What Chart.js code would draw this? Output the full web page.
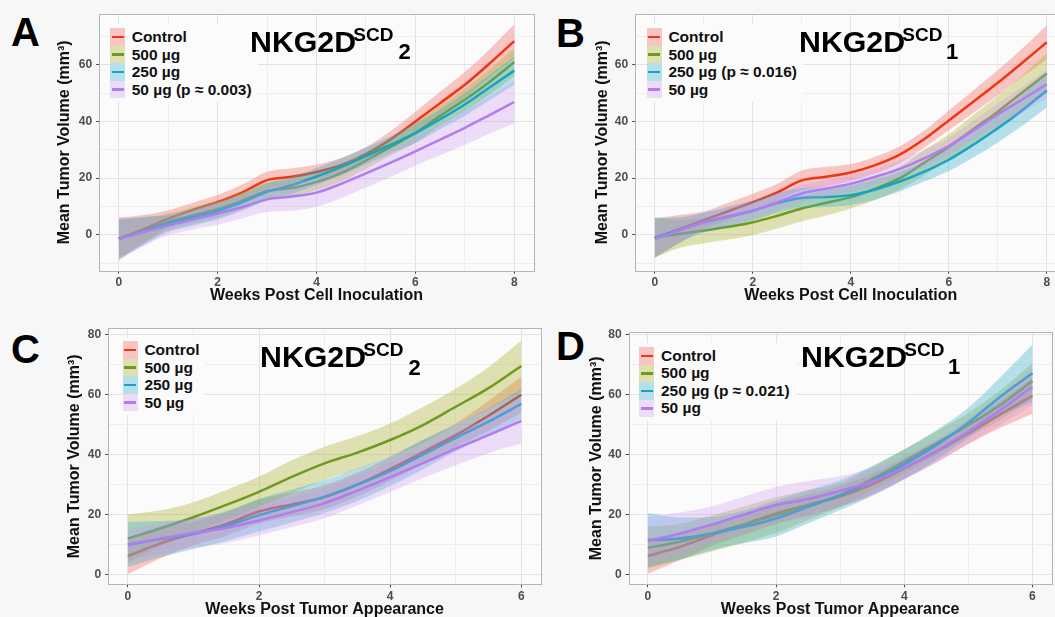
<!DOCTYPE html>
<html lang="en">
<head>
  <meta charset="UTF-8" />
  <title>Mean Tumor Volume</title>
  <script src="https://cdn.jsdelivr.net/npm/chart.js"></script>
  <style>
    html, body { margin: 0; padding: 0; }
    body { width: 1055px; height: 617px; overflow: hidden; position: relative; background: #f7f7f7; font-family: "Liberation Sans", Arial, sans-serif; }
    canvas { position: absolute; }
    .letter { position: absolute; font-size: 40px; font-weight: bold; line-height: 1; color: #000; }
    .ttl { position: absolute; font-weight: bold; line-height: 1; color: #000; white-space: nowrap; }
    .main { font-size: 30.3px; }
    .sup { font-size: 19px; }
    .sub { font-size: 22px; }
    .legend { position: absolute; background: #fbfbfb; padding: 4px 6px 4px 0; }
    .row { height: 17.5px; display: flex; align-items: center; font-weight: bold; font-size: 15.5px; white-space: nowrap; color: #111; }
    .key { width: 15px; height: 17.5px; position: relative; margin-right: 6.7px; flex: none; }
    .key i { position: absolute; left: 1.5px; right: 1.5px; top: 7.5px; height: 2.5px; }
  </style>
</head>
<body>
  <div class="letter" style="left:11px;top:12px">A</div>
  <div class="letter" style="left:556px;top:13px">B</div>
  <div class="letter" style="left:11px;top:329px">C</div>
  <div class="letter" style="left:556px;top:326px">D</div>

  <canvas id="chartA" width="489" height="305" style="left:55.4px;top:0px"></canvas>
  <canvas id="chartB" width="486" height="305" style="left:593.1px;top:0px"></canvas>
  <canvas id="chartC" width="486" height="305" style="left:65.4px;top:314px"></canvas>
  <canvas id="chartD" width="476" height="305" style="left:587.4px;top:314px"></canvas>

  <div id="legendA" class="legend" style="left:110px;top:24.3px"></div>
  <div id="legendB" class="legend" style="left:646.7px;top:24.3px"></div>
  <div id="legendC" class="legend" style="left:122.7px;top:337.3px"></div>
  <div id="legendD" class="legend" style="left:639.3px;top:343px"></div>

  <div class="ttl main" style="left:250px;top:26.6px">NKG2D</div>
  <div class="ttl sup" style="left:353.3px;top:24.6px">SCD</div>
  <div class="ttl sub" style="left:398.5px;top:41.4px">2</div>

  <div class="ttl main" style="left:799px;top:26.6px">NKG2D</div>
  <div class="ttl sup" style="left:902.3px;top:24.6px">SCD</div>
  <div class="ttl sub" style="left:946px;top:41.4px">1</div>

  <div class="ttl main" style="left:260px;top:341.9px">NKG2D</div>
  <div class="ttl sup" style="left:363.3px;top:339.8px">SCD</div>
  <div class="ttl sub" style="left:408.5px;top:356.6px">2</div>

  <div class="ttl main" style="left:801px;top:341.7px">NKG2D</div>
  <div class="ttl sup" style="left:904.3px;top:339.6px">SCD</div>
  <div class="ttl sub" style="left:948px;top:356.4px">1</div>

  <script>
    // x positions (weeks)
    const weeksAB = [0, 0.5, 1, 1.5, 2, 2.5, 3, 3.5, 4, 4.5, 5, 5.5, 6, 6.5, 7, 7.5, 8];
    const weeksCD = [0, 0.5, 1, 1.5, 2, 2.5, 3, 3.5, 4, 4.5, 5, 5.5, 6];

    const legendA = ['Control', '500 µg', '250 µg', '50 µg (p ≈ 0.003)'];
    const legendB = ['Control', '500 µg', '250 µg (p ≈ 0.016)', '50 µg'];
    const legendC = ['Control', '500 µg', '250 µg', '50 µg'];
    const legendD = ['Control', '500 µg', '250 µg (p ≈ 0.021)', '50 µg'];

    const lineColors = ['#ee3614', '#6f9a1f', '#18a2c6', '#b07cf2'];
    const bandColors = ['rgba(248,118,109,0.4)', 'rgba(173,176,39,0.35)', 'rgba(53,176,204,0.35)', 'rgba(203,150,243,0.3)'];

    // tick labels
    const xTicksAB = [0, 2, 4, 6, 8];
    const xTicksCD = [0, 2, 4, 6];
    const yTicksAB = [0, 20, 40, 60];
    const yTicksCD = [0, 20, 40, 60, 80];

    // A: weeks post cell inoculation, NKG2D-SCD2
    const aCtrl = [-1.4, 2, 5.7, 8.8, 11.6, 15, 19.3, 20.5, 22.2, 24.6, 28.5, 33.7, 40, 46.5, 53, 60.5, 68.4];
    const a500  = [-1.5, 1.5, 4.5, 6.8, 9, 12, 15.5, 16.5, 18.7, 21.8, 26.2, 31, 36, 42, 47.7, 54, 61];
    const a250  = [-1.5, 1.3, 4, 6.2, 8.4, 11.5, 15.2, 17.5, 20.6, 24, 27.8, 31.8, 35.9, 40.8, 46, 52, 58];
    const a50   = [-1.5, 1, 3.3, 5.4, 7.5, 9.8, 12.5, 13.5, 14.9, 18, 21.7, 25.5, 29.5, 33.6, 37.8, 42.3, 46.9];
    const aCtrlSe = [7.5, 5, 3, 2.5, 2.5, 2.8, 3, 3, 2.5, 2.5, 2.5, 3, 3.5, 4, 4.5, 5, 6];
    const a500Se  = [6.5, 4.5, 3, 3, 3, 3, 3, 3, 3, 3, 3, 3, 3.5, 3.5, 4, 4.5, 5];
    const a250Se  = [7, 5, 3, 3, 3, 3, 3, 3, 3, 3, 3, 3, 3.5, 3.5, 4, 4.5, 5];
    const a50Se   = [7.5, 5, 3.5, 3.5, 4, 4, 4.5, 5, 5, 5, 5, 5, 5, 5.5, 6, 6.5, 7.5];

    // B: weeks post cell inoculation, NKG2D-SCD1
    const bCtrl = [-1.2, 2, 5.2, 8.3, 11.5, 15, 19.2, 20.5, 22, 24.6, 28.3, 33.8, 40.4, 47, 53.7, 60.8, 68];
    const b500  = [-1, 0.3, 1.5, 2.8, 4.4, 6.7, 9.3, 11.3, 13.3, 16.3, 20, 25.5, 31, 37.3, 43.5, 50.3, 57];
    const b250  = [-1, 1.7, 4.4, 6.4, 8.5, 11.2, 13, 13.3, 14, 16, 18.8, 22.3, 26.5, 31.8, 37.6, 44, 51];
    const b50   = [-1.5, 1.5, 4.4, 6.4, 8.5, 11.5, 14.6, 16.3, 18, 20.5, 23.3, 27, 31.3, 36.8, 42.5, 47.8, 53.2];
    const bCtrlSe = [7, 5, 3, 3, 3, 3, 3.5, 3.5, 3, 3, 3, 3, 3.5, 4, 4.5, 5, 6];
    const b500Se  = [7, 5, 4.5, 4.5, 4.5, 4.5, 4.5, 4.5, 4, 4, 4, 4.5, 4.5, 5, 5.5, 6, 7];
    const b250Se  = [7, 4.5, 3.5, 3.5, 3.5, 3.5, 3.5, 3.5, 3.5, 3.5, 3.5, 3.5, 4, 4.5, 5, 5.5, 6];
    const b50Se   = [6, 4, 3, 3, 3, 3, 3, 3, 3, 3, 3, 3, 3, 3.5, 4, 4.5, 5];

    // C: weeks post tumor appearance, NKG2D-SCD2
    const cCtrl = [6.1, 10.4, 13.7, 16.8, 21, 23.4, 25.8, 30, 35.2, 40.8, 46.5, 53, 60];
    const c500  = [12, 15.4, 19.1, 23.2, 27.6, 32.6, 37.1, 40.7, 44.9, 49.9, 56, 62.2, 69.6];
    const c250  = [10, 11.8, 13.5, 16.2, 19.8, 22.8, 26, 30, 34.5, 40, 45.6, 51, 57];
    const c50   = [9.8, 12, 13.8, 15.5, 18, 20.8, 23.8, 28, 32.5, 37.2, 42, 46.5, 51.3];
    const cCtrlSe = [6, 5, 4, 4, 4, 4, 4, 4, 4, 4, 4, 5, 6];
    const c500Se  = [8, 6, 5, 5, 5, 5.5, 5.5, 5.5, 5.5, 6, 6, 7, 8.5];
    const c250Se  = [7.5, 6, 5, 5, 5.5, 5.5, 5.5, 5.5, 5, 5, 4.5, 4.5, 5];
    const c50Se   = [5, 5, 5, 5, 5, 5, 5, 5, 5, 5, 5.5, 6, 7.5];

    // D: weeks post tumor appearance, NKG2D-SCD1
    const dCtrl = [6.2, 9.2, 13.1, 16.7, 20.4, 23.2, 26, 30.1, 35.4, 41, 47.1, 53.5, 59.7];
    const d500  = [8.9, 10.9, 13.7, 16.7, 19.8, 23.2, 26.5, 31.9, 37.7, 43.8, 49.9, 56.6, 64.6];
    const d250  = [11.5, 12, 13.7, 15.9, 18.7, 22.6, 26.5, 31.2, 36.8, 43.2, 50.7, 59.4, 67.2];
    const d50   = [11.1, 13.7, 16.7, 20, 23.2, 25.2, 27.9, 31, 35.7, 41.2, 47.7, 54.9, 62.7];
    const dCtrlSe = [6, 4.5, 3.5, 3.5, 3.5, 3.5, 3.5, 3.5, 3.5, 3.5, 3.5, 4.5, 6];
    const d500Se  = [7, 6, 6, 6, 6, 5, 4, 4, 4, 4, 4, 5, 6];
    const d250Se  = [9, 7, 5.5, 5.5, 6, 5.5, 5, 5, 5, 5, 5, 6.5, 9.5];
    const d50Se   = [8, 7, 6, 6, 6, 6, 5, 4.5, 4, 4, 4, 5, 6];

    Chart.defaults.font.family = '"Liberation Sans", Arial, sans-serif';

    function buildLegend(id, names) {
      const box = document.getElementById(id);
      names.forEach((name, g) => {
        const row = document.createElement('div');
        row.className = 'row';
        row.innerHTML = `<span class="key" style="background:${bandColors[g]}"><i style="background:${lineColors[g]}"></i></span><span>${name}</span>`;
        box.appendChild(row);
      });
    }

    function makeDatasets(x, means, ses) {
      const ds = [];
      means.forEach((m, g) => {
        const base = (3 - g) * 3; // control drawn first, 50 µg last
        const common = { pointRadius: 0, borderColor: 'rgba(0,0,0,0)', borderWidth: 1, cubicInterpolationMode: 'monotone' };
        ds.push({ ...common, data: x.map((v, i) => ({ x: v, y: m[i] + ses[g][i] })), fill: false, order: base + 2 });
        ds.push({ ...common, data: x.map((v, i) => ({ x: v, y: m[i] - ses[g][i] })), fill: '-1', backgroundColor: bandColors[g], order: base + 1 });
        ds.push({ data: x.map((v, i) => ({ x: v, y: m[i] })), borderColor: lineColors[g], borderWidth: 2.5, pointRadius: 0, fill: false, order: base, cubicInterpolationMode: 'monotone' });
      });
      return ds;
    }

    const panelBg = {
      id: 'panelBg',
      beforeDraw(chart) {
        const { ctx, chartArea: a } = chart;
        ctx.save();
        ctx.fillStyle = '#fbfbfb';
        ctx.fillRect(a.left, a.top, a.width, a.height);
        ctx.restore();
      },
      afterDraw(chart) {
        const { ctx, chartArea: a } = chart;
        ctx.save();
        ctx.strokeStyle = '#b5b5b5';
        ctx.lineWidth = 1;
        ctx.strokeRect(Math.round(a.left) + 0.5, Math.round(a.top) + 0.5, Math.round(a.width), Math.round(a.height));
        ctx.restore();
      }
    };

    function axis(min, max, step, majors, title, isY, width) {
      return {
        type: 'linear', min: min, max: max,
        afterBuildTicks: s => {
          const t = [];
          for (let v = Math.ceil(min / step) * step; v <= max + 1e-9; v += step) t.push({ value: Math.round(v * 100) / 100 });
          s.ticks = t;
        },
        afterFit: s => { if (isY) s.width = width; else s.height = width; },
        grid: {
          color: c => majors.includes(c.tick.value) ? '#e2e2e2' : '#eeeeee',
          tickColor: c => majors.includes(c.tick.value) ? '#444' : 'rgba(0,0,0,0)',
          tickLength: 3, lineWidth: 1
        },
        border: { display: false },
        ticks: {
          autoSkip: false, maxRotation: 0, padding: isY ? 4 : 2,
          color: '#4d4d4d', font: { size: 12, weight: 'bold' },
          callback: v => majors.includes(v) ? String(v) : ''
        },
        title: { display: true, text: title, color: '#111', padding: 0, font: { size: 16, weight: 'bold', lineHeight: 1.2 } }
      };
    }

    function drawPanel(id, x, means, ses, xr, yr, xTicks, yTicks, xTitle, geo) {
      new Chart(document.getElementById(id), {
        type: 'line',
        data: { datasets: makeDatasets(x, means, ses) },
        options: {
          responsive: false, animation: false,
          layout: { padding: { left: 0, top: geo.top, right: geo.right, bottom: 0 } },
          plugins: { legend: { display: false }, tooltip: { enabled: false } },
          scales: {
            x: axis(xr[0], xr[1], 1, xTicks, xTitle, false, geo.xh),
            y: axis(yr[0], yr[1], 10, yTicks, 'Mean Tumor Volume (mm³)', true, geo.yw)
          }
        },
        plugins: [panelBg]
      });
    }

    drawPanel('chartA', weeksAB, [aCtrl, a500, a250, a50], [aCtrlSe, a500Se, a250Se, a50Se],
      [-0.4, 8.4], [-12.7, 78], xTicksAB, yTicksAB, 'Weeks Post Cell Inoculation',
      { top: 14, right: 10, xh: 34.3, yw: 44.1 });
    drawPanel('chartB', weeksAB, [bCtrl, b500, b250, b50], [bCtrlSe, b500Se, b250Se, b50Se],
      [-0.4, 8.4], [-12.7, 78], xTicksAB, yTicksAB, 'Weeks Post Cell Inoculation',
      { top: 14, right: 12.6, xh: 34.3, yw: 42.2 });
    drawPanel('chartC', weeksCD, [cCtrl, c500, c250, c50], [cCtrlSe, c500Se, c250Se, c50Se],
      [-0.3, 6.3], [-3.3, 82.2], xTicksCD, yTicksCD, 'Weeks Post Tumor Appearance',
      { top: 14.3, right: 10, xh: 34.7, yw: 43.2 });
    drawPanel('chartD', weeksCD, [dCtrl, d500, d250, d50], [dCtrlSe, d500Se, d250Se, d50Se],
      [-0.3, 6.3], [-3.3, 80.9], xTicksCD, yTicksCD, 'Weeks Post Tumor Appearance',
      { top: 18.3, right: 11.4, xh: 34.7, yw: 41.7 });

    buildLegend('legendA', legendA);
    buildLegend('legendB', legendB);
    buildLegend('legendC', legendC);
    buildLegend('legendD', legendD);
  </script>
</body>
</html>
